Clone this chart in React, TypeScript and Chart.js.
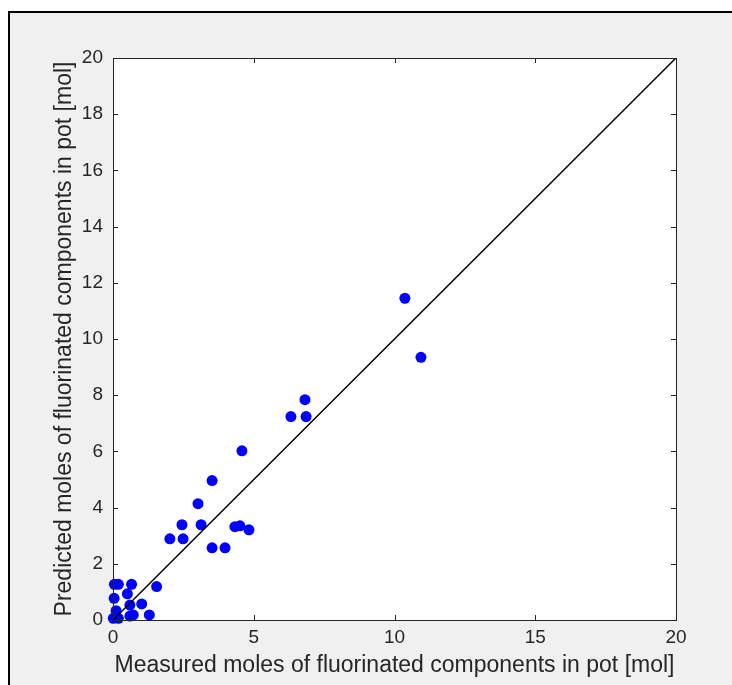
import React, { useEffect, useRef } from "react";
import { Chart, registerables } from "chart.js";

Chart.register(...registerables);

const measured = [10.37, 10.94, 6.32, 6.82, 6.86, 4.58, 3.52, 3.02, 3.13, 2.45, 2.49, 2.02, 3.52, 3.98, 4.33, 4.51, 4.83, 0.05, 0.19, 0.66, 1.55, 0.04, 0.51, 0.6, 1.02, 0.11, 1.29, 0.6, 0.72, 0.01, 0.19];
const predicted = [11.45, 9.35, 7.24, 7.84, 7.24, 6.02, 4.96, 4.14, 3.39, 3.39, 2.89, 2.89, 2.57, 2.57, 3.32, 3.35, 3.21, 1.27, 1.27, 1.27, 1.19, 0.77, 0.93, 0.53, 0.57, 0.33, 0.18, 0.14, 0.18, 0.06, 0.06];
const xTicks = [0, 5, 10, 15, 20];
const yTicks = [0, 2, 4, 6, 8, 10, 12, 14, 16, 18, 20];
const identityLine = [0, 20];
const xTitle = "Measured moles of fluorinated components in pot [mol]";
const yTitle = "Predicted moles of fluorinated components in pot [mol]";

const AXIS = "#262626";
const FONT = "'Liberation Sans', Arial, sans-serif";

const boxPlugin = {
  id: "boxPlugin",
  beforeDatasetsDraw(chart: any) {
    const { ctx, chartArea: a } = chart;
    ctx.save();
    ctx.fillStyle = "#ffffff";
    ctx.fillRect(a.left, a.top, a.right - a.left, a.bottom - a.top);
    ctx.restore();
  },
  afterDraw(chart: any) {
    const { ctx, chartArea: a, scales } = chart;
    ctx.save();
    ctx.strokeStyle = AXIS;
    ctx.lineWidth = 1;
    ctx.strokeRect(a.left + 0.5, a.top + 0.5, a.right - a.left, a.bottom - a.top);
    const len = 5;
    ctx.beginPath();
    xTicks.forEach((v) => {
      const px = Math.round(scales.x.getPixelForValue(v)) + 0.5;
      ctx.moveTo(px, a.bottom);
      ctx.lineTo(px, a.bottom - len);
      ctx.moveTo(px, a.top);
      ctx.lineTo(px, a.top + len);
    });
    yTicks.forEach((v) => {
      const py = Math.round(scales.y.getPixelForValue(v)) + 0.5;
      ctx.moveTo(a.left, py);
      ctx.lineTo(a.left + len, py);
      ctx.moveTo(a.right, py);
      ctx.lineTo(a.right - len, py);
    });
    ctx.stroke();
    ctx.restore();
  },
};

export default function App() {
  const ref = useRef<HTMLCanvasElement>(null);
  useEffect(() => {
    if (!ref.current) return;
    const chart = new Chart(ref.current, {
      type: "scatter",
      data: {
        datasets: [
          {
            type: "line",
            data: identityLine.map((v) => ({ x: v, y: v })),
            borderColor: "#000000",
            borderWidth: 1.5,
            pointRadius: 0,
            fill: false,
          } as any,
          {
            type: "scatter",
            data: measured.map((m, i) => ({ x: m, y: predicted[i] })),
            backgroundColor: "#0000ff",
            borderColor: "#0000ff",
            borderWidth: 0,
            pointRadius: 5.5,
            clip: false,
          } as any,
        ],
      },
      options: {
        animation: false,
        responsive: false,
        maintainAspectRatio: false,
        layout: { padding: { left: 0, top: 58, right: 56, bottom: 0 } },
        plugins: { legend: { display: false }, tooltip: { enabled: false } },
        scales: {
          x: {
            type: "linear",
            min: 0,
            max: 20,
            afterFit: (s: any) => { s.height = 65; },
            afterBuildTicks: (s: any) => { s.ticks = xTicks.map((v) => ({ value: v })); },
            grid: { display: false, drawTicks: false },
            border: { display: false },
            ticks: { color: AXIS, font: { family: FONT, size: 19 }, padding: 6, maxRotation: 0 },
            title: { display: true, text: xTitle, color: AXIS, font: { family: FONT, size: 23 }, padding: { top: 0, bottom: 6 } },
          },
          y: {
            type: "linear",
            min: 0,
            max: 20,
            afterFit: (s: any) => { s.width = 113; },
            afterBuildTicks: (s: any) => { s.ticks = yTicks.map((v) => ({ value: v })); },
            grid: { display: false, drawTicks: false },
            border: { display: false },
            ticks: { color: AXIS, font: { family: FONT, size: 19 }, padding: 10 },
            title: { display: true, text: yTitle, color: AXIS, font: { family: FONT, size: 23 }, padding: { top: 51, bottom: 0 } },
          },
        },
      },
      plugins: [boxPlugin],
    });
    return () => chart.destroy();
  }, []);

  return (
    <div style={{ position: "fixed", left: 0, top: 0, width: 732, height: 685, overflow: "hidden", background: "#ffffff" }}>
      <div style={{ position: "absolute", left: 8, top: 11, width: 800, height: 800, border: "2px solid #000", background: "#f0f0f0" }} />
      <canvas ref={ref} width={732} height={685} style={{ position: "absolute", left: 0, top: 0, width: 732, height: 685 }} />
    </div>
  );
}
